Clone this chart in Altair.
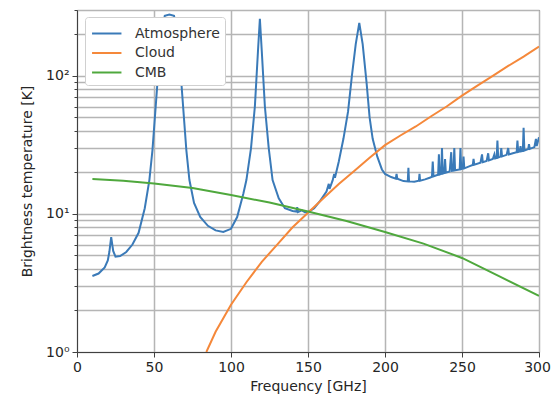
import altair as alt
import pandas as pd

# Atmosphere brightness temperature
atm_freq = [10, 14, 18, 20, 21, 22.2, 23.5, 25, 28, 32, 36, 40, 44, 47, 49, 52, 54, 57, 60, 63, 66, 68, 71, 73, 76,
            80, 85, 90, 95, 100, 104, 108, 110, 113, 115.5, 117.5, 118.75, 120, 122, 124.5, 127, 131, 135, 140,
            142.5, 143, 143.5, 146, 148, 150, 154, 158, 162, 163.5, 164, 166, 167, 167.5, 170, 173, 176, 178.5,
            181, 183.3, 185.5, 188, 190, 192, 195, 198, 200, 204, 207, 207.5, 208, 212, 214.8, 215.2, 215.6, 219,
            222, 222.4, 222.8, 226, 229, 230.5, 231, 231.5, 233, 234.5, 235, 235.5, 236.5, 237, 237.5, 238.5, 239,
            239.5, 242, 243, 243.5, 244.5, 245, 245.5, 248.5, 249, 249.5, 250.5, 251, 251.5, 255, 257, 257.5, 258,
            262, 263, 263.5, 266, 267, 267.5, 270, 271, 271.5, 272.5, 273, 273.5, 275, 275.5, 276, 279, 280, 280.5,
            283, 285.5, 286, 286.5, 287.5, 288, 288.5, 289.5, 290, 290.5, 293, 293.5, 294, 297, 298, 298.5, 300]
atm_temp = [3.55, 3.7, 4.1, 4.6, 5.3, 6.8, 5.4, 4.9, 4.95, 5.3, 6.0, 7.3, 11, 17.6, 29, 82, 180, 272, 278, 272, 180,
            82, 29, 17.6, 12, 9.5, 8.2, 7.6, 7.4, 7.8, 9.5, 14, 17.6, 30, 60, 150, 259, 150, 60, 30, 17.6, 13, 11,
            10.5, 10.4, 11.2, 10.3, 10.6, 10.3, 10.3, 11, 12.5, 14.5, 16.5, 15.2, 17.5, 19.5, 18.3, 24, 35, 55, 100,
            170, 242, 170, 90, 50, 35, 26, 21, 19.5, 18.5, 18, 19.5, 18, 17.3, 17.2, 21.6, 17.2, 17.1,
            17.4, 19.5, 17.4, 17.8, 18.3, 18.6, 24, 18.7, 19, 19.2, 27, 19.3, 19.5, 30, 19.6, 19.8, 25,
            19.9, 20.3, 28, 20.5, 20.6, 30, 20.7, 21, 30, 21.1, 21.3, 26, 21.4, 22.2, 22.6, 25, 22.7,
            23.5, 27, 23.7, 24.2, 27.5, 24.4, 25, 27, 25.2, 25.4, 34, 25.6, 26, 30, 26.1, 26.8, 30, 27,
            27.5, 28, 34, 28.1, 28.3, 31, 28.4, 28.6, 42, 28.8, 29.5, 32, 29.6, 30.5, 35, 31, 36]

# Cloud
cloud_freq = [84, 90, 100, 110, 120, 130, 140, 150, 160, 170, 180, 190, 200, 210, 220, 230, 240, 250, 260, 270, 280, 290, 300]
cloud_temp = [1.0, 1.4, 2.2, 3.2, 4.5, 6.0, 8.0, 10.2, 13, 16.5, 20.5, 25.5, 31.5, 37, 43, 51, 60, 72, 85, 100, 118, 138, 163]

# CMB
cmb_freq = [10, 30, 50, 75, 100, 125, 150, 175, 200, 225, 250, 275, 300]
cmb_temp = [17.9, 17.4, 16.6, 15.4, 13.7, 12.1, 10.4, 8.9, 7.4, 6.1, 4.8, 3.5, 2.55]

series_names = ["Atmosphere", "Cloud", "CMB"]
series_colors = ["#3a7ab8", "#f5883a", "#4fa83d"]

x_ticks = [0, 50, 100, 150, 200, 250, 300]
y_ticks = [1, 2, 3, 4, 5, 6, 7, 8, 9, 10, 20, 30, 40, 50, 60, 70, 80, 90, 100, 200, 300]

rows = []
for n, fs, ts in zip(series_names, [atm_freq, cloud_freq, cmb_freq], [atm_temp, cloud_temp, cmb_temp]):
    for i, (f, t) in enumerate(zip(fs, ts)):
        rows.append({"series": n, "freq": f, "temp": t, "order": i})
df = pd.DataFrame(rows)

major_test = "abs(log(datum.value)/LN10 - round(log(datum.value)/LN10)) < 1e-6"

axis_style = dict(
    grid=True, gridColor="#b5b5b5", gridWidth=1.5,
    labelFont="DejaVu Sans", titleFont="DejaVu Sans", labelFontSize=14, titleFontSize=14,
    titleFontWeight="normal", labelColor="#262626", titleColor="#262626",
    domainColor="#404040", tickColor="#404040", tickWidth=1, labelFlush=False,
)

chart = alt.Chart(df).mark_line(strokeWidth=2, clip=True).encode(
    x=alt.X("freq:Q", scale=alt.Scale(domain=[0, 300], nice=False, zero=False),
            axis=alt.Axis(values=x_ticks, title="Frequency [GHz]", tickSize=5, labelPadding=3,
                          labelOffset={"condition": {"test": "datum.value == 300", "value": -2}, "value": 0},
                          titlePadding=5, **axis_style)),
    y=alt.Y("temp:Q", scale=alt.Scale(type="log", domain=[1, 300], nice=False),
            axis=alt.Axis(values=y_ticks, title="Brightness temperature [K]",
                          labelExpr="datum.value == 1 ? '10⁰' : datum.value == 10 ? '10¹' : datum.value == 100 ? '10²' : ''",
                          tickSize={"condition": {"test": major_test, "value": 5}, "value": 3},
                          labelPadding=3, titlePadding=11, **axis_style)),
    color=alt.Color("series:N", scale=alt.Scale(domain=series_names, range=series_colors),
                    legend=alt.Legend(title=None, orient="none", legendX=8, legendY=7,
                                      symbolType="M-0.9,0H1.9", symbolSize=441, symbolStrokeWidth=2,
                                      labelFontSize=14, labelColor="#333", labelOffset=22,
                                      rowPadding=0.5, padding=5, fillColor="white",
                                      strokeColor="#d0d0d0", cornerRadius=3, labelFont="DejaVu Sans")),
    order="order:Q",
).properties(
    width=462, height=342,
    autosize=alt.AutoSizeParams(type="none"),
    padding={"left": 69, "top": 2, "right": 12, "bottom": 49},
    background="white",
).configure_view(
    stroke="#404040", strokeWidth=1
)

chart.save("out.html", embed_options={"renderer": "svg", "actions": False})
